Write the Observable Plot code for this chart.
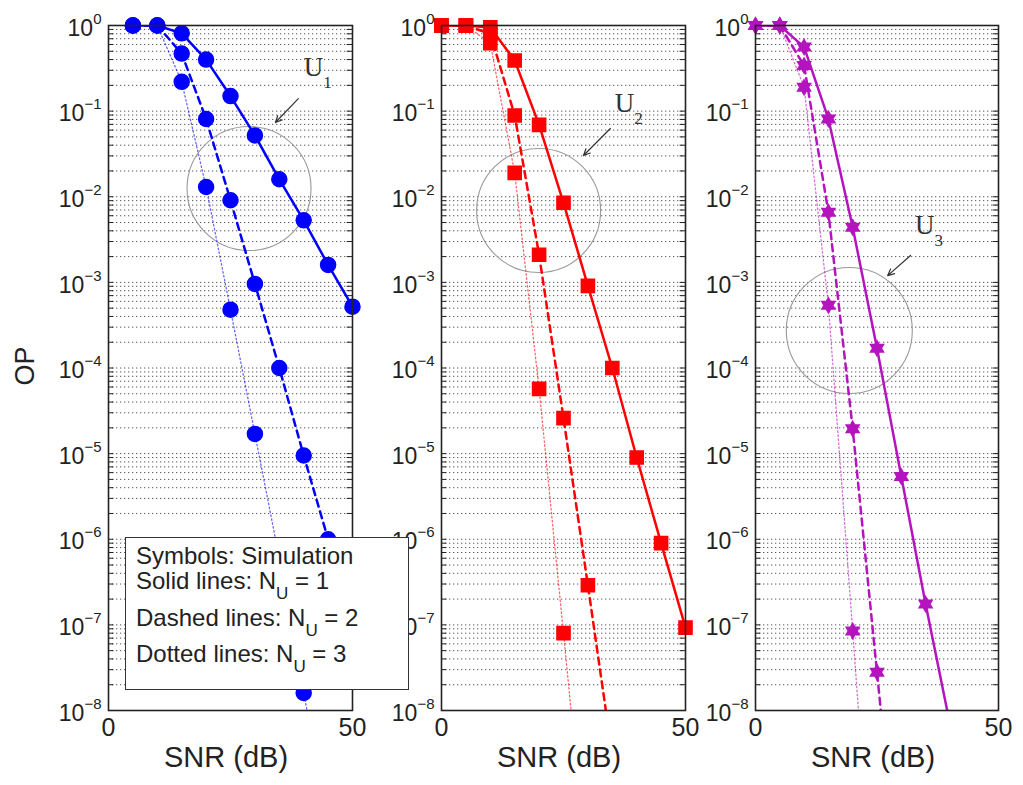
<!DOCTYPE html>
<html>
<head>
<meta charset="utf-8">
<script src="https://cdn.jsdelivr.net/npm/d3@7"></script>
<script src="https://cdn.jsdelivr.net/npm/@observablehq/plot@0.6"></script>
<style>
  body { margin: 0; background: #fff; font-family: "Liberation Sans", Arial, sans-serif; }
  #wrap { position: relative; width: 1023px; height: 785px; overflow: hidden; background: #fff; }
  .panel { position: absolute; top: 0; }
  .panel svg { overflow: visible; }
  #ylab { position: absolute; left: 25px; top: 366px; transform: translate(-50%, -50%) rotate(-90deg); font-size: 27px; color: #222; white-space: nowrap; }
  .xlab { position: absolute; top: 757px; transform: translate(-50%, -50%); font-size: 29px; color: #222; white-space: nowrap; }
  #legend { position: absolute; left: 125px; top: 537px; width: 284px; height: 153px; box-sizing: border-box;
            border: 1.5px solid #333; background: #fff; z-index: 5; color: #222; font-size: 24px; }
  #legend .ln { position: absolute; left: 10px; line-height: 24px; white-space: nowrap; }
  #legend .sb { position: relative; top: 10px; font-size: 17px; }
</style>
</head>
<body>
<div id="wrap">
  <div id="p1" class="panel" style="left:0px"></div>
  <div id="p2" class="panel" style="left:370px"></div>
  <div id="p3" class="panel" style="left:688px"></div>
  <div id="ylab">OP</div>
  <div class="xlab" style="left:226px">SNR (dB)</div>
  <div class="xlab" style="left:559px">SNR (dB)</div>
  <div class="xlab" style="left:873px">SNR (dB)</div>
  <div id="legend">
    <div class="ln" style="top:6px">Symbols: Simulation</div>
    <div class="ln" style="top:31px">Solid lines: N<span class="sb">U</span> = 1</div>
    <div class="ln" style="top:68px">Dashed lines: N<span class="sb">U</span> = 2</div>
    <div class="ln" style="top:104px">Dotted lines: N<span class="sb">U</span> = 3</div>
  </div>
</div>
<script>
// ---------- data ----------
const snr = [0, 5, 10, 15, 20, 25, 30, 35, 40, 45, 50];

// U1 (blue, circles)
const u1Solid  = [null, 1, 1, 0.81, 0.40, 0.15, 0.052, 0.016, 0.0053, 0.0016, 0.00052];
const u1Dashed = [null, 1, 1, 0.47, 0.081, 0.0091, 0.00096, 1.0e-4, 9.5e-6, 1.0e-6, 1.0e-7];
const u1Dotted = [null, 1, 1, 0.22, 0.013, 4.8e-4, 1.7e-5, 6.0e-7, 1.6e-8, 5e-10, null];

// U2 (red, squares)
const u2Solid  = [1, 1, 0.95, 0.39, 0.069, 0.0085, 0.00091, 1.0e-4, 9.0e-6, 9.0e-7, 9.3e-8];
const u2Dashed = [1, 1, 0.80, 0.089, 0.0021, 2.6e-5, 2.9e-7, 3e-9, null, null, null];
const u2Dotted = [1, 1, 0.62, 0.019, 5.7e-5, 8.0e-8, 1e-10, null, null, null, null];

// U3 (purple, hexagrams)
const u3Solid  = [1, 1, 0.56, 0.081, 0.0044, 0.00017, 5.4e-6, 1.75e-7, 7e-9, null, null];
const u3Dashed = [1, 1, 0.34, 0.0066, 1.95e-5, 2.8e-8, 4e-11, null, null, null, null];
const u3Dotted = [1, 1, 0.19, 0.00054, 8.5e-8, 1e-11, null, null, null, null, null];

const yTicks = [1, 1e-1, 1e-2, 1e-3, 1e-4, 1e-5, 1e-6, 1e-7, 1e-8];
const xTicks = [0, 50];
const minorMult = [1, 2, 3, 4, 5, 6, 7, 8, 9];

// annotations: [circle centre], [arrow], [label]
const circleX = [28.8, 19.9, 19.3];
const circleY = [0.01247, 0.0069, 0.000274];
const circleR = [62, 62, 63];
const arrowX1 = [38.9, 34.6, 31.9];
const arrowY1 = [0.140, 0.0627, 0.00206];
const arrowX2 = [34.2, 29.1, 27.2];
const arrowY2 = [0.0736, 0.0303, 0.0012];
const labelX = [42.0, 37.5, 34.8];
const labelY = [0.323, 0.1227, 0.00461];
const labelSub = ["1", "2", "3"];

// ---------- helpers ----------
const gridVals = [];
yTicks.slice(1).forEach(t => minorMult.forEach(m => gridVals.push(m * t)));
gridVals.push(1);

const hexagram = {
  draw(context, size) {
    const R = Math.sqrt(size / Math.PI);
    const r = R / Math.sqrt(3);
    for (let i = 0; i < 12; i++) {
      const a = -Math.PI / 2 + i * Math.PI / 6;
      const rr = i % 2 === 0 ? R : r;
      const px = rr * Math.cos(a), py = rr * Math.sin(a);
      if (i === 0) context.moveTo(px, py); else context.lineTo(px, py);
    }
    context.closePath();
  }
};

const toPts = arr => snr.map((x, i) => ({x, y: arr[i]})).filter(d => d.y != null);

function panel(k, opts) {
  const {solid, dashed, dotted, color, symbol, r, width, ml, mr} = opts;
  const S = toPts(solid), D = toPts(dashed), T = toPts(dotted);
  const vis = a => a.filter(d => d.y >= 1e-8);
  const marks = [
    Plot.ruleY(gridVals, {stroke: "#222", strokeWidth: 0.9, strokeDasharray: "1.3,2.7", strokeOpacity: 0.85}),
    Plot.ruleY(gridVals, {x1: 0, x2: 1.1, stroke: "#222", strokeWidth: 1}),
    Plot.ruleY(gridVals, {x1: 48.9, x2: 50, stroke: "#222", strokeWidth: 1}),
    Plot.dot([{x: circleX[k], y: circleY[k]}], {x: "x", y: "y", r: circleR[k], fill: "none", stroke: "#9a9a9a", strokeWidth: 1.1}),
    Plot.arrow([{x1: arrowX1[k], y1: arrowY1[k], x2: arrowX2[k], y2: arrowY2[k]}],
      {x1: "x1", y1: "y1", x2: "x2", y2: "y2", stroke: "#333", strokeWidth: 1.2, headLength: 9, headAngle: 50}),
    Plot.text([{x: labelX[k], y: labelY[k]}], {x: "x", y: "y", text: () => "U", fontFamily: "Liberation Serif, serif", fontSize: 27, fill: "#333"}),
    Plot.text([{x: labelX[k], y: labelY[k]}], {x: "x", y: "y", text: () => labelSub[k], dx: 14, dy: 15, fontFamily: "Liberation Serif, serif", fontSize: 17, fill: "#333"}),
    Plot.line(T, {x: "x", y: "y", stroke: color, strokeWidth: 1.3, strokeDasharray: "1.5,2.5", strokeOpacity: 0.6, clip: true}),
    Plot.line(D, {x: "x", y: "y", stroke: color, strokeWidth: 2.5, strokeDasharray: "7,5", clip: true}),
    Plot.line(S, {x: "x", y: "y", stroke: color, strokeWidth: 2.5, clip: true}),
    Plot.dot(vis(T), {x: "x", y: "y", r, symbol, fill: color, stroke: color}),
    Plot.dot(vis(D), {x: "x", y: "y", r, symbol, fill: color, stroke: color}),
    Plot.dot(vis(S), {x: "x", y: "y", r, symbol, fill: color, stroke: color}),
    Plot.frame({stroke: "#222", strokeWidth: 1.6}),
    Plot.axisY({ticks: yTicks, tickSize: 0, tickPadding: 7, fontSize: 23, label: null,
      tickFormat: d => String(Math.round(Math.log10(d)))}),
    Plot.axisX({ticks: xTicks, tickSize: 0, tickPadding: 8, fontSize: 25, label: null, tickFormat: d => String(d)})
  ];
  const svg = Plot.plot({
    width, height: 785, marginTop: 25, marginBottom: 75, marginLeft: ml, marginRight: mr,
    x: {domain: [0, 50]},
    y: {type: "log", domain: [1e-8, 1]},
    style: {fontFamily: "Liberation Sans, Arial, sans-serif", color: "#222", background: "transparent", overflow: "visible"},
    marks
  });
  svg.querySelectorAll('g[aria-label="y-axis tick label"] text').forEach(t => {
    const e = t.textContent;
    t.textContent = "";
    const a = document.createElementNS("http://www.w3.org/2000/svg", "tspan");
    a.setAttribute("dy", "0.12em");
    a.textContent = "10";
    const b = document.createElementNS("http://www.w3.org/2000/svg", "tspan");
    b.setAttribute("dy", "-0.8em");
    b.setAttribute("font-size", "15");
    b.textContent = e.startsWith("-") ? "\u2212" + e.slice(1) : e;
    t.appendChild(a); t.appendChild(b);
  });
  return svg;
}

document.getElementById("p1").appendChild(panel(0, {solid: u1Solid, dashed: u1Dashed, dotted: u1Dotted,
  color: "#0000ff", symbol: "circle", r: 7.5, width: 370, ml: 108, mr: 18}));
document.getElementById("p2").appendChild(panel(1, {solid: u2Solid, dashed: u2Dashed, dotted: u2Dotted,
  color: "#ff0000", symbol: "square", r: 7.4, width: 333, ml: 71, mr: 18}));
document.getElementById("p3").appendChild(panel(2, {solid: u3Solid, dashed: u3Dashed, dotted: u3Dotted,
  color: "#b414bd", symbol: hexagram, r: 7.5, width: 335, ml: 67, mr: 25}));
</script>
</body>
</html>
